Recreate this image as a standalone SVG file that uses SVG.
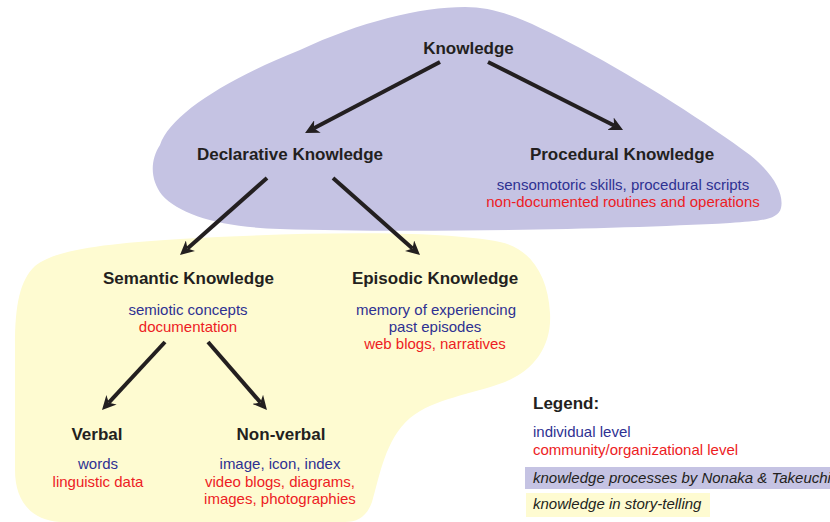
<svg xmlns="http://www.w3.org/2000/svg" width="830" height="522" viewBox="0 0 830 522">
<style>
text{font-family:"Liberation Sans",Arial,Helvetica,sans-serif}
.t{font-size:17px;font-weight:bold;fill:#231f20;text-anchor:middle}
.b{font-size:15px;fill:#2e3192;text-anchor:middle}
.r{font-size:15px;fill:#ed1c24;text-anchor:middle}
.lb{font-size:15px;fill:#2e3192}
.lr{font-size:15px;fill:#ed1c24}
.li{font-size:15px;font-style:italic;fill:#231f20}
.arrow{stroke:#231f20;stroke-width:4;fill:none;marker-end:url(#ah)}
.purple{fill:#c5c3e3}
.yellow{fill:#fefbd1}
</style>
<defs>
<marker id="ah" viewBox="0 0 14 14" refX="4" refY="7" markerWidth="14" markerHeight="14" markerUnits="userSpaceOnUse" orient="auto">
<path d="M0,0 L14,7 L0,14 L4,7 Z" fill="#231f20"/>
</marker>
</defs>
<g id="background">
<path class="yellow" d="M15,470 L15,345 C15,305 20,280 35,266 C55,250 100,244 180,239 C300,232 440,230 500,242 C530,248 548,275 550,313 C552,345 535,370 505,382 C470,395 435,398 410,418 C385,440 380,475 372,502 C367,516 358,522 345,522 L60,522 C30,520 15,500 15,470 Z"/>
<path class="purple" d="M465,7 C500,7 530,22 580,48 C640,80 710,125 750,155 C775,175 784,195 781,208 C778,220 760,221 730,223 C600,230 400,233 280,229 C220,227 180,215 162,195 C150,180 150,160 160,145 C170,115 225,80 300,50 C360,22 420,7 465,7 Z"/>
</g>
<g id="connectors">
<line class="arrow" x1="440" y1="62" x2="313.9" y2="128.3"/>
<line class="arrow" x1="488" y1="62" x2="614.1" y2="125.5"/>
<line class="arrow" x1="267" y1="178" x2="187.5" y2="248.4"/>
<line class="arrow" x1="333" y1="178" x2="412.5" y2="248.4"/>
<line class="arrow" x1="165" y1="342" x2="108.8" y2="402.7"/>
<line class="arrow" x1="208" y1="342" x2="260.4" y2="402.4"/>
</g>
<g id="knowledge">
<text class="t" x="468.5" y="54">Knowledge</text>
</g>
<g id="declarative">
<text class="t" x="290" y="160">Declarative Knowledge</text>
</g>
<g id="procedural">
<text class="t" x="622" y="160">Procedural Knowledge</text>
<text class="b" x="623" y="190">sensomotoric skills, procedural scripts</text>
<text class="r" x="623" y="207">non-documented routines and operations</text>
</g>
<g id="semantic">
<text class="t" x="188.5" y="284">Semantic Knowledge</text>
<text class="b" x="188" y="315">semiotic concepts</text>
<text class="r" x="188" y="332">documentation</text>
</g>
<g id="episodic">
<text class="t" x="435" y="284">Episodic Knowledge</text>
<text class="b" x="436" y="315">memory of experiencing</text>
<text class="b" x="435" y="332">past episodes</text>
<text class="r" x="435" y="349">web blogs, narratives</text>
</g>
<g id="verbal">
<text class="t" x="97" y="440">Verbal</text>
<text class="b" x="98" y="469">words</text>
<text class="r" x="98" y="487">linguistic data</text>
</g>
<g id="nonverbal">
<text class="t" x="281" y="440">Non-verbal</text>
<text class="b" x="280" y="469">image, icon, index</text>
<text class="r" x="280" y="487">video blogs, diagrams,</text>
<text class="r" x="280" y="504">images, photographies</text>
</g>
<g id="legend">
<text x="533" y="409" style="font-size:17px;font-weight:bold;fill:#231f20">Legend:</text>
<text class="lb" x="533" y="437">individual level</text>
<text class="lr" x="533" y="455">community/organizational level</text>
<rect class="purple" x="525" y="467" width="305" height="22"/>
<text class="li" x="533" y="483">knowledge processes by Nonaka &amp; Takeuchi</text>
<rect class="yellow" x="526" y="493" width="184" height="24"/>
<text class="li" x="533" y="509">knowledge in story-telling</text>
</g>
</svg>
